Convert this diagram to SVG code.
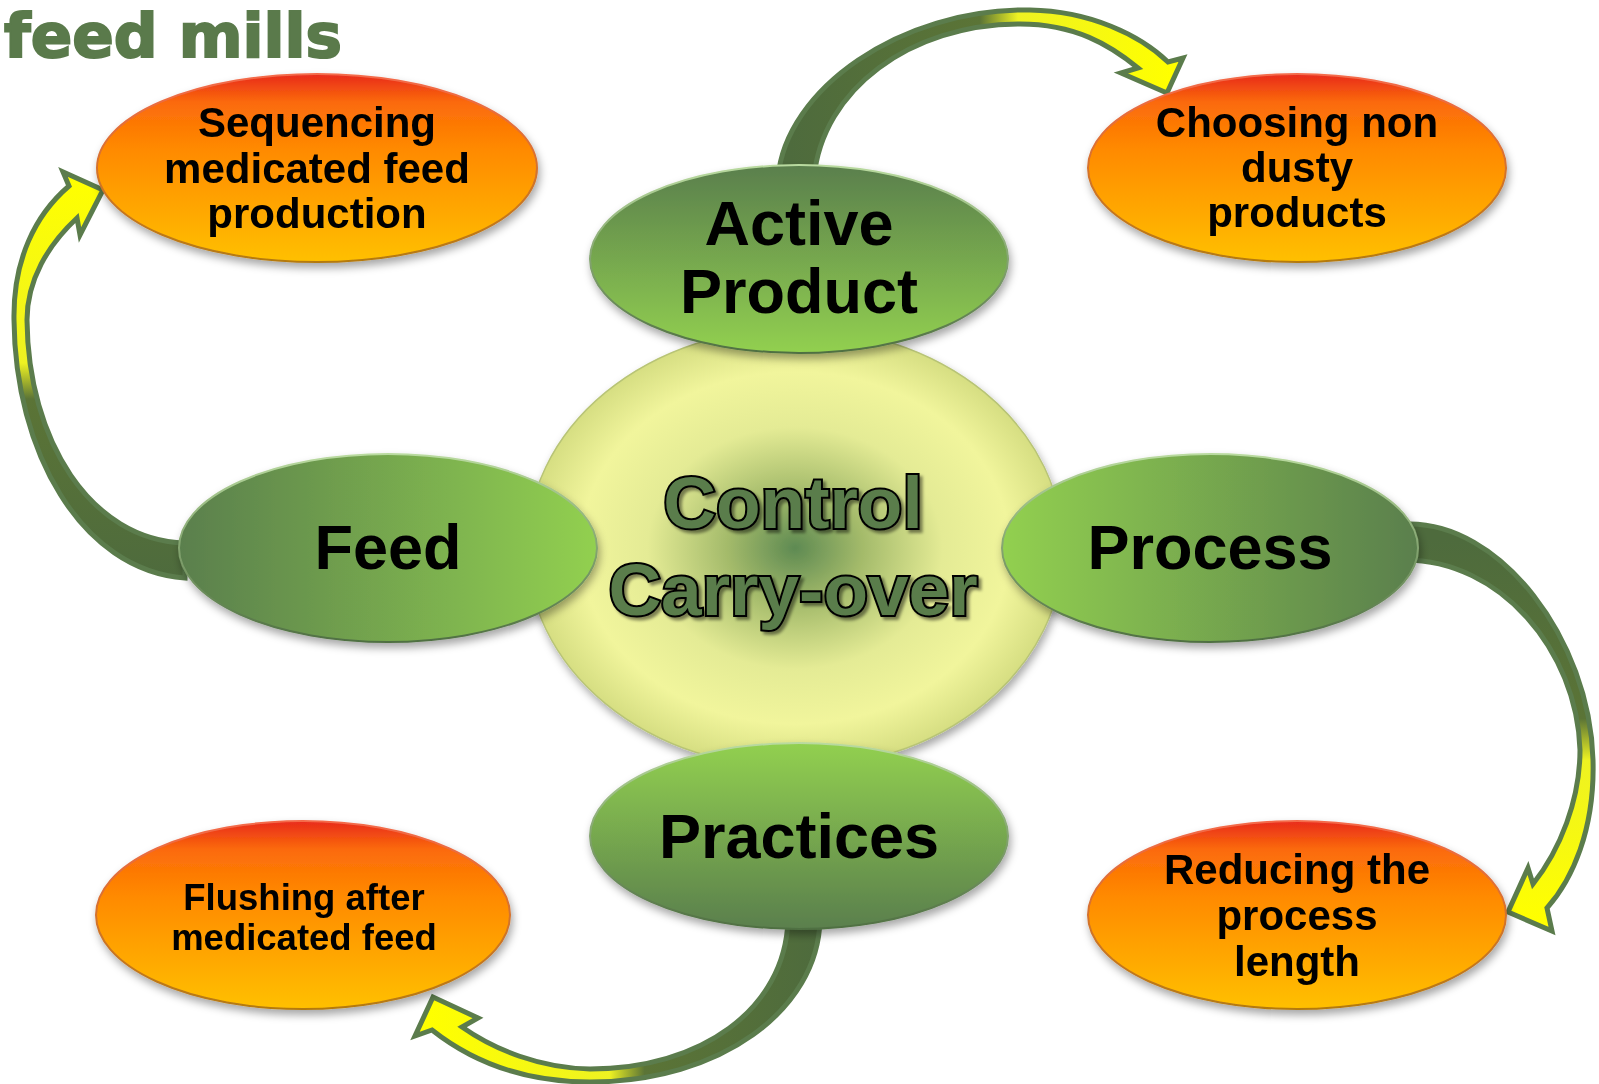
<svg xmlns="http://www.w3.org/2000/svg" width="1599" height="1084" viewBox="0 0 1599 1084">
<style>
.arrow{stroke:#5b7c4c;stroke-width:5;stroke-linejoin:miter}
.gtxt{font-family:"Liberation Sans",Arial,sans-serif;font-weight:bold;font-size:63px;fill:#000;text-anchor:middle}
.otxt{font-family:"Liberation Sans",Arial,sans-serif;font-weight:bold;font-size:42px;fill:#000;text-anchor:middle}
.otxt2{font-family:"Liberation Sans",Arial,sans-serif;font-weight:bold;font-size:36.5px;fill:#000;text-anchor:middle}
.ctxt{font-family:"Liberation Sans",Arial,sans-serif;font-weight:bold;font-size:73px;fill:#5a7d4b;stroke:#000;stroke-width:4;paint-order:stroke;text-anchor:middle}
</style>
<defs>
<filter id="sh" x="-10%" y="-15%" width="125%" height="140%"><feDropShadow dx="2" dy="5" stdDeviation="4" flood-color="#000" flood-opacity="0.35"/></filter>
<filter id="tsh" x="-10%" y="-20%" width="120%" height="150%"><feDropShadow dx="3" dy="3" stdDeviation="1.5" flood-color="#000" flood-opacity="0.45"/></filter>
<radialGradient id="gc" cx="0.5" cy="0.5" r="0.5">
<stop offset="0" stop-color="#5e8a52"/><stop offset="0.25" stop-color="#a3ba6a"/><stop offset="0.55" stop-color="#e4eb95"/><stop offset="0.8" stop-color="#f1f59c"/><stop offset="1" stop-color="#d6de82"/>
</radialGradient>
<linearGradient id="gDown" x1="0" y1="0" x2="0" y2="1"><stop offset="0" stop-color="#5a7f4d"/><stop offset="1" stop-color="#92d050"/></linearGradient>
<linearGradient id="gUp" x1="0" y1="1" x2="0" y2="0"><stop offset="0" stop-color="#5a7f4d"/><stop offset="1" stop-color="#92d050"/></linearGradient>
<linearGradient id="gRight" x1="0" y1="0" x2="1" y2="0"><stop offset="0" stop-color="#5a7f4d"/><stop offset="1" stop-color="#92d050"/></linearGradient>
<linearGradient id="gLeft" x1="1" y1="0" x2="0" y2="0"><stop offset="0" stop-color="#5a7f4d"/><stop offset="1" stop-color="#92d050"/></linearGradient>
<linearGradient id="gRim" x1="0" y1="0" x2="0" y2="1"><stop offset="0" stop-color="#b9da9f"/><stop offset="1" stop-color="#4f6f42"/></linearGradient>
<linearGradient id="gOr" x1="0" y1="0" x2="0" y2="1"><stop offset="0" stop-color="#e82a1c"/><stop offset="0.15" stop-color="#fb6a0a"/><stop offset="0.4" stop-color="#ff8a00"/><stop offset="1" stop-color="#ffc000"/></linearGradient>
<linearGradient id="gOrRim" x1="0" y1="0" x2="0" y2="1"><stop offset="0" stop-color="#f46a4a"/><stop offset="1" stop-color="#b47a10"/></linearGradient>
<linearGradient id="a1" gradientUnits="userSpaceOnUse" x1="790" y1="0" x2="1170" y2="0"><stop offset="0" stop-color="#4e6b3d"/><stop offset="0.5" stop-color="#5b7436"/><stop offset="0.6" stop-color="#eef222"/><stop offset="1" stop-color="#ffff00"/></linearGradient>
<linearGradient id="a2" gradientUnits="userSpaceOnUse" x1="0" y1="578" x2="0" y2="180"><stop offset="0" stop-color="#4e6b3d"/><stop offset="0.45" stop-color="#5b7436"/><stop offset="0.54" stop-color="#eef222"/><stop offset="1" stop-color="#ffff00"/></linearGradient>
<linearGradient id="a3" gradientUnits="userSpaceOnUse" x1="0" y1="540" x2="0" y2="920"><stop offset="0" stop-color="#4e6b3d"/><stop offset="0.47" stop-color="#5b7436"/><stop offset="0.58" stop-color="#eef222"/><stop offset="1" stop-color="#ffff00"/></linearGradient>
<linearGradient id="a4" gradientUnits="userSpaceOnUse" x1="820" y1="0" x2="430" y2="0"><stop offset="0" stop-color="#4e6b3d"/><stop offset="0.45" stop-color="#5b7436"/><stop offset="0.54" stop-color="#eef222"/><stop offset="1" stop-color="#ffff00"/></linearGradient>
</defs>
<rect width="1599" height="1084" fill="#fff"/>
<text id="title" x="4" y="57" font-family="'DejaVu Sans',sans-serif" font-weight="bold" font-size="60" fill="#5a7a4b" stroke="#5a7a4b" stroke-width="2" textLength="338" lengthAdjust="spacingAndGlyphs">feed mills</text>
<g id="connectors">
<path class="arrow" fill="url(#a1)" d="M778,178 C785,90 900,8 1030,10 C1090,11 1140,35 1168,62 L1183,58 L1167,93 L1121,73 L1138,68 C1110,45 1075,24 1020,24 C910,24 822,90 814,178 Z"/>
<path class="arrow" fill="url(#a2)" d="M185,578 C80,570 15,450 14,320 C13,260 35,215 69,186 L63,172 L103,190 L80,235 L77,218 C48,245 27,280 27,320 C28,440 90,540 185,543 Z"/>
<path class="arrow" fill="url(#a3)" d="M1405,524 C1500,520 1590,640 1593,760 C1595,830 1572,880 1547,908 L1552,931 L1508,912 L1528,868 L1533,884 C1560,850 1580,800 1580,750 C1577,650 1500,560 1405,560 Z"/>
<path class="arrow" fill="url(#a4)" d="M820,920 C818,1010 720,1082 590,1082 C520,1082 470,1060 432,1030 L415,1036 L433,997 L478,1018 L462,1027 C495,1050 540,1068 590,1069 C700,1069 785,1010 788,920 Z"/>
</g>
<g id="center" filter="url(#sh)">
<ellipse cx="795" cy="548" rx="268" ry="220" fill="url(#gc)" stroke="#b8c476" stroke-width="1.5"/>
</g>
<g id="center-label" filter="url(#tsh)">
<text class="ctxt" x="793" y="528">Control</text>
<text class="ctxt" x="793" y="615">Carry-over</text>
</g>
<g id="active-product" filter="url(#sh)">
<ellipse cx="799" cy="259" rx="209" ry="94" fill="url(#gDown)" stroke="url(#gRim)" stroke-width="2"/>
<text class="gtxt" x="799" y="245">Active</text>
<text class="gtxt" x="799" y="313">Product</text>
</g>
<g id="feed" filter="url(#sh)">
<ellipse cx="388" cy="548" rx="209" ry="94" fill="url(#gRight)" stroke="url(#gRim)" stroke-width="2"/>
<text class="gtxt" x="388" y="569">Feed</text>
</g>
<g id="process" filter="url(#sh)">
<ellipse cx="1210" cy="548" rx="208" ry="94" fill="url(#gLeft)" stroke="url(#gRim)" stroke-width="2"/>
<text class="gtxt" x="1210" y="569">Process</text>
</g>
<g id="practices" filter="url(#sh)">
<ellipse cx="799" cy="836" rx="209" ry="93" fill="url(#gUp)" stroke="url(#gRim)" stroke-width="2"/>
<text class="gtxt" x="799" y="858">Practices</text>
</g>
<g id="sequencing" filter="url(#sh)">
<ellipse cx="317" cy="168" rx="220" ry="94" fill="url(#gOr)" stroke="url(#gOrRim)" stroke-width="2"/>
<text class="otxt" x="317" y="137">Sequencing</text>
<text class="otxt" x="317" y="183">medicated feed</text>
<text class="otxt" x="317" y="228">production</text>
</g>
<g id="choosing" filter="url(#sh)">
<ellipse cx="1297" cy="168" rx="209" ry="94" fill="url(#gOr)" stroke="url(#gOrRim)" stroke-width="2"/>
<text class="otxt" x="1297" y="137">Choosing non</text>
<text class="otxt" x="1297" y="182">dusty</text>
<text class="otxt" x="1297" y="227">products</text>
</g>
<g id="flushing" filter="url(#sh)">
<ellipse cx="303" cy="915" rx="207" ry="94" fill="url(#gOr)" stroke="url(#gOrRim)" stroke-width="2"/>
<text class="otxt2" x="304" y="910">Flushing after</text>
<text class="otxt2" x="304" y="950">medicated feed</text>
</g>
<g id="reducing" filter="url(#sh)">
<ellipse cx="1297" cy="915" rx="209" ry="94" fill="url(#gOr)" stroke="url(#gOrRim)" stroke-width="2"/>
<text class="otxt" x="1297" y="884">Reducing the</text>
<text class="otxt" x="1297" y="930">process</text>
<text class="otxt" x="1297" y="976">length</text>
</g>
</svg>
